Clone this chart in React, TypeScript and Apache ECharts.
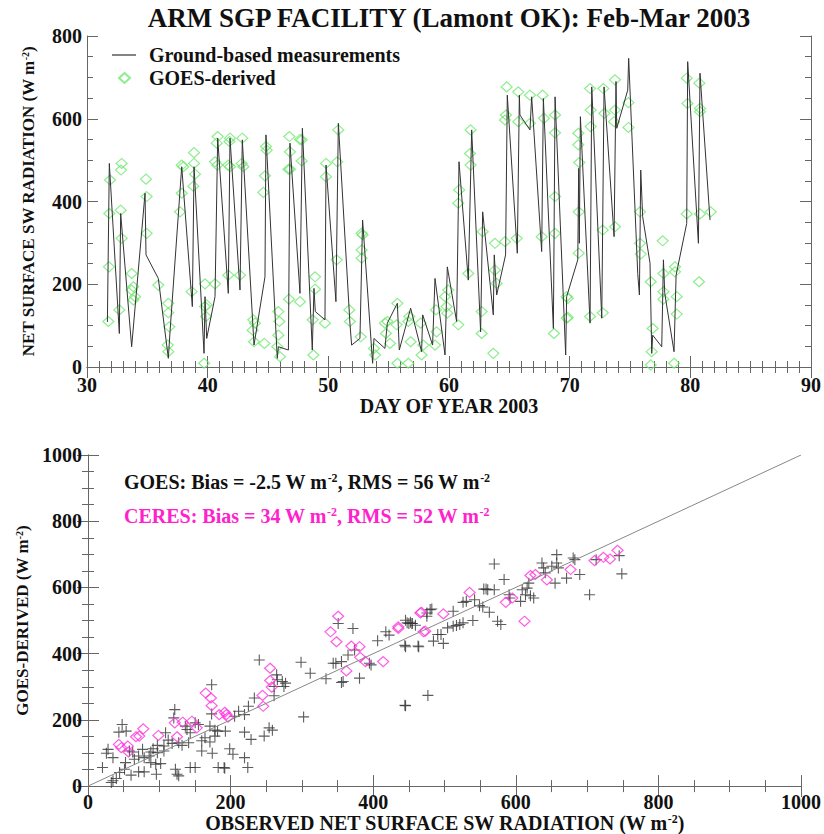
import React, { useEffect, useRef } from 'react';
import * as echarts from 'echarts';

const FONT = '"Liberation Serif", "Times New Roman", serif';

// Top panel: ground-based measurements (day of year, W m-2)
const groundDays = [
  31.69, 31.85, 32.68, 32.79, 33.70, 34.81, 34.89, 35.91, 36.74, 36.88, 37.85, 38.73, 38.87, 39.70, 39.78, 39.92,
  40.61, 40.83, 41.71, 41.85, 42.68, 42.87, 43.84, 44.75, 44.83, 45.77, 45.86, 46.69, 46.82, 47.65, 47.85, 48.67,
  48.81, 48.92, 49.72, 49.81, 50.63, 50.83, 51.79, 51.93, 52.62, 52.84, 53.67, 53.78, 54.69, 54.89, 55.72, 55.88,
  56.82, 57.73, 57.82, 58.64, 58.84, 59.67, 59.86, 60.63, 60.83, 61.60, 61.88, 62.62, 62.79, 63.67, 63.75, 63.95,
  64.69, 64.83, 65.66, 65.83, 65.88, 66.71, 66.85, 67.68, 67.82, 68.65, 68.79, 69.67, 69.75, 70.67, 70.75, 70.80,
  70.89, 71.69, 71.83, 72.66, 72.85, 73.68, 73.84, 73.90, 74.81, 74.89, 75.64, 75.78, 75.89, 76.05, 76.66, 76.80,
  76.88, 77.63, 77.77, 77.88, 78.65, 78.82, 79.70, 79.78, 80.67, 80.80, 81.63,
];
const groundValues = [
  109, 492, 81, 371, 49, 420, 271, 214, 21, 85, 484, 146, 484, 33, 170, 69,
  170, 553, 178, 553, 186, 549, 53, 218, 561, 21, 49, 41, 541, 178, 577, 41,
  190, 134, 114, 488, 158, 589, 106, 53, 69, 355, 9, 69, 45, 106, 154, 41,
  142, 37, 126, 53, 214, 29, 242, 110, 496, 210, 573, 85, 375, 126, 271, 174,
  271, 657, 275, 657, 609, 573, 653, 279, 649, 93, 653, 29, 170, 259, 480, 299,
  605, 106, 677, 118, 677, 315, 690, 577, 669, 746, 226, 174, 476, 363, 251, 33,
  77, 49, 259, 178, 37, 222, 347, 738, 299, 710, 355,
];

// Top panel: GOES-derived [day, W m-2]
const goesDerived = [
  [31.77, 110], [31.85, 371], [31.91, 452], [31.82, 242],
  [32.79, 379], [32.87, 492], [32.82, 476], [32.87, 311], [32.68, 138],
  [33.70, 226], [33.84, 194], [33.70, 186], [33.98, 170], [33.84, 162],
  [34.89, 454], [34.94, 412], [34.94, 323], [35.91, 198],
  [36.74, 154], [36.74, 131], [36.82, 97], [36.69, 53], [36.74, 37],
  [37.85, 488], [37.98, 484], [37.85, 420], [37.71, 375], [38.67, 182],
  [38.87, 518], [38.87, 492], [38.95, 466], [38.81, 437],
  [39.78, 201], [39.70, 9], [39.78, 146], [39.92, 150], [39.86, 122],
  [40.61, 201], [40.83, 557], [40.75, 541], [40.61, 496], [40.80, 488],
  [41.71, 222], [41.85, 553], [41.80, 545], [41.71, 488], [41.85, 484],
  [42.68, 222], [42.87, 553], [42.82, 492], [42.96, 484],
  [43.78, 114], [43.84, 61], [43.92, 106], [43.73, 89],
  [44.70, 57], [44.83, 533], [44.89, 524], [44.75, 462], [44.61, 422],
  [45.86, 134], [45.94, 110], [45.86, 77], [45.77, 49], [45.99, 25],
  [46.77, 557], [46.82, 520], [46.69, 478], [46.82, 478], [46.74, 164],
  [47.65, 550], [47.79, 549], [47.79, 498], [47.65, 158],
  [48.90, 218], [48.90, 188], [48.70, 114], [48.76, 29],
  [49.72, 106], [49.81, 492], [49.80, 460],
  [50.83, 573], [50.74, 496], [50.69, 259], [51.74, 138], [51.79, 110],
  [52.68, 73], [52.76, 323], [52.84, 319], [52.76, 283], [52.76, 263],
  [53.78, 45], [53.87, 29], [54.69, 106], [54.89, 110], [54.78, 81], [55.11, 57],
  [55.72, 154], [55.66, 102], [55.72, 9], [56.63, 110], [56.63, 9], [56.82, 61], [56.71, 122],
  [57.73, 29], [57.65, 106], [57.87, 53], [58.84, 53], [58.97, 85], [58.92, 138],
  [59.67, 170], [59.80, 146], [59.86, 130], [59.94, 186],
  [60.77, 102], [60.85, 428], [60.77, 396],
  [61.60, 226], [61.79, 573], [61.74, 516], [61.79, 488],
  [62.71, 134], [62.79, 327], [62.71, 81],
  [63.67, 33], [63.81, 299], [63.81, 234], [63.95, 202],
  [64.64, 303], [64.64, 597], [64.78, 677], [64.72, 609],
  [65.61, 311], [65.74, 665], [65.74, 593], [66.71, 657], [66.71, 589],
  [67.68, 315], [67.76, 657], [67.87, 601],
  [68.79, 609], [68.79, 566], [68.79, 412], [68.79, 323], [68.70, 81],
  [69.75, 170], [69.84, 166], [69.75, 118], [69.84, 120],
  [70.72, 537], [70.80, 494], [70.72, 565], [70.75, 375], [70.75, 275],
  [71.69, 673], [71.74, 621], [71.74, 581], [71.69, 122],
  [72.79, 673], [72.88, 613], [72.74, 331], [72.74, 131],
  [73.76, 694], [73.76, 621], [73.68, 593], [73.76, 339],
  [74.87, 639], [74.87, 579], [75.83, 375], [75.83, 299], [75.89, 273],
  [76.72, 206], [76.88, 93], [76.80, 37], [76.72, 5],
  [77.71, 305], [77.77, 226], [77.77, 182], [77.77, 164],
  [78.73, 242], [78.73, 230], [78.87, 170], [78.87, 128], [78.65, 9],
  [79.70, 698], [79.76, 637], [79.70, 370],
  [80.75, 686], [80.80, 625], [80.80, 617], [80.80, 370], [80.72, 206],
  [81.69, 375],
];

// Bottom panel: [observed, GOES-derived]
const goesVsObs = [
  [350.9, 491], [371.6, 476], [347.6, 371], [355.5, 376], [343.9, 371], [364.7, 396], [373.9, 411], [380.8, 326],
  [394.7, 371], [397.0, 366], [406.2, 439], [417.7, 466], [422.3, 456], [445.4, 421], [450.0, 491], [454.6, 491],
  [459.2, 486], [463.8, 421], [445.4, 243], [357.8, 316], [355.5, 313], [333.8, 324],
  [298.8, 374], [311.7, 341], [302.4, 209], [240.2, 381], [264.6, 336], [265.6, 321], [272.5, 316], [274.8, 301],
  [277.1, 311], [261.0, 301], [261.0, 273], [254.0, 176], [258.6, 169], [233.3, 266], [225.0, 241], [219.5, 216],
  [211.2, 226], [205.6, 211], [191.8, 54], [173.4, 306], [173.4, 218], [171.0, 181], [178.0, 169], [181.7, 166],
  [178.0, 151], [171.0, 133], [159.5, 106], [154.9, 186], [150.3, 191], [138.8, 171], [136.5, 181], [143.4, 161],
  [141.1, 131], [121.7, 231], [120.3, 206], [108.8, 161], [106.5, 121], [112.5, 139], [106.5, 106], [118.0, 129],
  [127.2, 131], [131.9, 123], [97.3, 123], [97.3, 101], [91.3, 113], [88.1, 103], [85.8, 91], [76.5, 111],
  [78.8, 86], [71.0, 91], [62.7, 103], [65.0, 81], [58.1, 106], [53.5, 166], [47.9, 186], [43.3, 163],
  [28.1, 111], [25.8, 99], [35.0, 86], [52.6, 71], [51.2, 51], [44.3, 41], [39.7, 23], [35.0, 16],
  [32.7, 11], [20.3, 56], [71.0, 43], [78.8, 43], [95.9, 36], [122.6, 51], [124.9, 36], [127.2, 31],
  [143.4, 56], [150.3, 56], [60.4, 33], [88.1, 71], [95.0, 66], [101.9, 68], [182.6, 56], [203.3, 96],
  [219.5, 86], [224.1, 56], [219.5, 163], [228.7, 141], [247.1, 151], [192.7, 166], [198.7, 113], [174.3, 99],
  [190.9, 56], [159.5, 137], [164.1, 146],
  [569.8, 671], [583.6, 624], [590.6, 578], [591.9, 568], [558.3, 595], [555.1, 595], [560.6, 593], [569.8, 593],
  [530.6, 558], [526.0, 555], [542.2, 563], [549.1, 545], [553.7, 541], [562.9, 525], [539.8, 500], [512.2, 528],
  [482.2, 535], [475.3, 513], [452.2, 495], [447.6, 493], [454.6, 491], [445.3, 501], [444.4, 425], [462.9, 423],
  [484.5, 438], [490.5, 458], [495.1, 458], [498.4, 431], [504.3, 478], [512.2, 483], [516.8, 485], [521.4, 488],
  [526.0, 493], [574.4, 498], [579.0, 488], [606.7, 558], [609.0, 593], [615.9, 598], [618.2, 613], [620.5, 575],
  [625.1, 568], [613.6, 578], [636.7, 674], [639.0, 659], [641.3, 644], [650.5, 664], [657.4, 699], [657.4, 674],
  [659.7, 659], [655.1, 613], [671.2, 628], [682.8, 684], [680.5, 689], [689.7, 639], [703.5, 578], [712.7, 684],
  [745.0, 696], [748.7, 641], [444.4, 244], [476.7, 274], [479.9, 533], [475.3, 523],
];

const ceresVsObs = [
  [350.8, 513], [340.2, 466], [348.5, 436], [362.4, 348], [369.3, 423], [380.8, 421], [381.7, 389], [389.1, 376],
  [414.0, 376], [435.2, 476], [466.1, 523], [470.7, 466], [255.4, 356], [255.4, 319], [257.7, 299], [244.8, 274],
  [245.7, 241], [165.1, 281], [172.4, 266], [173.4, 243], [184.0, 216], [191.8, 223], [194.1, 216], [196.4, 208],
  [121.7, 191], [124.9, 149], [132.8, 193], [145.7, 196], [152.6, 176], [77.5, 173], [71.9, 151], [67.3, 149],
  [98.7, 153], [43.3, 126], [46.6, 116], [55.8, 121], [56.7, 103],
  [435.2, 481], [467.5, 525], [473.0, 468], [498.4, 520], [535.2, 585], [586.0, 555], [595.2, 568], [612.2, 498],
  [620.5, 636], [627.4, 639], [643.6, 623], [676.8, 654], [710.4, 681], [722.9, 691], [732.1, 686], [742.7, 712],
];

const oneToOne = [[0, 0], [1000, 1000]];

const PLUS = 'path://M4.5,0h1v4.5h4.5v1h-4.5v4.5h-1v-4.5h-4.5v-1h4.5z';
const AXIS_COLOR = '#666';
const labelFmt = (v: number) => String(v);

function mainAxis(pos: string, grid: number, min: number, max: number, interval: number, minorSplit: number, extra: any) {
  return {
    type: 'value', gridIndex: grid, position: pos, min, max, interval,
    axisLine: { show: true, lineStyle: { color: AXIS_COLOR, width: 1 } },
    axisTick: { show: true, inside: true, length: 11, lineStyle: { color: AXIS_COLOR } },
    minorTick: { show: true, splitNumber: minorSplit, length: 6, lineStyle: { color: AXIS_COLOR } },
    splitLine: { show: false },
    minorSplitLine: { show: false },
    ...extra,
  };
}
function mirrorAxis(pos: string, grid: number, min: number, max: number, interval: number, minorSplit: number) {
  return {
    type: 'value', gridIndex: grid, position: pos, min, max, interval,
    axisLine: { show: true, lineStyle: { color: AXIS_COLOR, width: 1 } },
    axisTick: { show: true, inside: true, length: 11, lineStyle: { color: AXIS_COLOR } },
    minorTick: { show: true, splitNumber: minorSplit, length: 6, lineStyle: { color: AXIS_COLOR } },
    splitLine: { show: false },
    axisLabel: { show: false },
  };
}
function tickLabel(margin: number) {
  return { show: true, fontFamily: FONT, fontWeight: 'bold', fontSize: 20, color: '#111', margin, formatter: labelFmt };
}

export default function App() {
  const ref = useRef<HTMLDivElement>(null);
  useEffect(() => {
    if (!ref.current) return;
    const chart = echarts.init(ref.current, null, { renderer: 'svg' });
    const groundData = groundDays.map((d, i) => [d, groundValues[i]]);
    const nameStyle = (size: number) => ({
      fontFamily: FONT, fontWeight: 'bold', fontSize: size, color: '#111',
      rich: { sup: { fontSize: Math.round(size * 0.6), fontWeight: 'bold', fontFamily: FONT, verticalAlign: 'top', color: '#111' } },
    });
    chart.setOption({
      animation: false,
      backgroundColor: '#fff',
      title: {
        text: 'ARM SGP FACILITY (Lamont OK): Feb-Mar 2003',
        left: 449, top: 4, textAlign: 'center', padding: 0,
        textStyle: { fontFamily: FONT, fontWeight: 'bold', fontSize: 27, color: '#111' },
      },
      legend: [
        {
          data: [{ name: 'Ground-based measurements', icon: 'rect' }], left: 112, top: 45, orient: 'vertical', padding: 0,
          itemWidth: 24, itemHeight: 1.2,
          textStyle: { fontFamily: FONT, fontWeight: 'bold', fontSize: 20, color: '#111', padding: [0, 0, 0, 8] },
        },
        {
          data: ['GOES-derived'], left: 118, top: 68, orient: 'vertical', padding: 0,
          itemWidth: 11, itemHeight: 10,
          textStyle: { fontFamily: FONT, fontWeight: 'bold', fontSize: 20, color: '#111', padding: [0, 0, 0, 14] },
        },
      ],
      grid: [
        { left: 87, top: 36, width: 724, height: 331 },
        { left: 88, top: 455, width: 723, height: 332 },
      ],
      xAxis: [
        mainAxis('bottom', 0, 30, 90, 10, 10, {
          name: 'DAY OF YEAR 2003', nameLocation: 'middle', nameGap: 28,
          nameTextStyle: nameStyle(20), axisLabel: tickLabel(8),
        }),
        mirrorAxis('top', 0, 30, 90, 10, 10),
        mainAxis('bottom', 1, 0, 1000, 200, 4, {
          name: 'OBSERVED NET SURFACE SW RADIATION (W m{sup|-2})', nameLocation: 'middle', nameGap: 24,
          nameTextStyle: nameStyle(20), axisLabel: tickLabel(6),
        }),
        mirrorAxis('top', 1, 0, 1000, 200, 4),
      ],
      yAxis: [
        mainAxis('left', 0, 0, 800, 200, 4, {
          name: 'NET SURFACE SW RADIATION (W m{sup|-2})', nameLocation: 'middle', nameGap: 50,
          nameTextStyle: nameStyle(17), axisLabel: tickLabel(5),
        }),
        mirrorAxis('right', 0, 0, 800, 200, 4),
        mainAxis('left', 1, 0, 1000, 200, 4, {
          name: 'GOES-DERIVED (W m{sup|-2})', nameLocation: 'middle', nameGap: 56,
          nameTextStyle: nameStyle(17), axisLabel: tickLabel(6),
        }),
        mirrorAxis('right', 1, 0, 1000, 200, 4),
      ],
      graphic: [
        {
          type: 'text', left: 124, top: 472, silent: true,
          style: {
            text: 'GOES: Bias = -2.5 W m{sup|-2}, RMS = 56 W m{sup|-2}',
            fontFamily: FONT, fontWeight: 'bold', fontSize: 20, fill: '#111',
            rich: { sup: { fontSize: 12, fontWeight: 'bold', fontFamily: FONT, verticalAlign: 'top', fill: '#111' } },
          },
        },
        {
          type: 'text', left: 124, top: 506, silent: true,
          style: {
            text: 'CERES: Bias = 34 W m{sup|-2}, RMS = 52 W m{sup|-2}',
            fontFamily: FONT, fontWeight: 'bold', fontSize: 20, fill: '#ff22cc',
            rich: { sup: { fontSize: 12, fontWeight: 'bold', fontFamily: FONT, verticalAlign: 'top', fill: '#ff22cc' } },
          },
        },
      ],
      series: [
        {
          name: 'GOES-derived', type: 'scatter', xAxisIndex: 0, yAxisIndex: 0,
          data: goesDerived, symbol: 'diamond', symbolSize: [11, 10],
          itemStyle: { color: 'rgba(255,255,255,0)', borderColor: '#70e870', borderWidth: 1.2 },
        },
        {
          name: 'Ground-based measurements', type: 'line', xAxisIndex: 0, yAxisIndex: 0,
          data: groundData, symbol: 'none', showSymbol: false,
          lineStyle: { color: '#333', width: 1 }, itemStyle: { color: '#333' },
        },
        {
          name: '1:1', type: 'line', xAxisIndex: 2, yAxisIndex: 2, data: oneToOne,
          symbol: 'none', lineStyle: { color: '#888', width: 1 }, silent: true,
        },
        {
          name: 'GOES', type: 'scatter', xAxisIndex: 2, yAxisIndex: 2,
          data: goesVsObs, symbol: PLUS, symbolSize: 11,
          itemStyle: { color: '#333' },
        },
        {
          name: 'CERES', type: 'scatter', xAxisIndex: 2, yAxisIndex: 2,
          data: ceresVsObs, symbol: 'diamond', symbolSize: [11, 10],
          itemStyle: { color: 'rgba(255,255,255,0)', borderColor: '#ff33dd', borderWidth: 1.2 },
        },
      ],
    });
    return () => chart.dispose();
  }, []);
  return <div ref={ref} style={{ position: 'absolute', left: 0, top: 0, width: 824, height: 834 }} />;
}
